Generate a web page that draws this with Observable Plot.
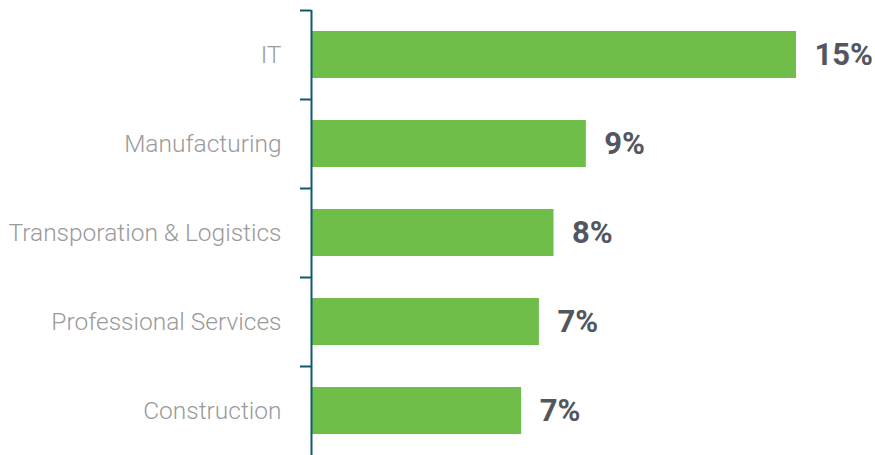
<!DOCTYPE html>
<html>
<head>
<meta charset="utf-8">
<script src="https://cdn.jsdelivr.net/npm/d3@7"></script>
<script src="https://cdn.jsdelivr.net/npm/@observablehq/plot@0.6"></script>
<style>
  html, body { margin: 0; padding: 0; background: #fff; }
  #chart svg { display: block; }
</style>
</head>
<body>
<div id="chart"></div>
<script>
const categories = ["IT", "Manufacturing", "Transporation & Logistics", "Professional Services", "Construction"];
const shares = [15, 8.5, 7.5, 7.05, 6.5];

const data = categories.map((c, i) => ({category: c, share: shares[i], label: Math.round(shares[i]) + "%"}));

const chart = Plot.plot({
  width: 875,
  height: 455,
  marginLeft: 311,
  marginRight: 79,
  marginTop: 10,
  marginBottom: 0,
  style: {fontFamily: "Roboto, sans-serif", background: "#fff"},
  x: {domain: [0, 15], axis: null},
  y: {domain: categories, paddingInner: 0.47, paddingOuter: 0.235, label: null},
  marks: [
    Plot.barX(data, {x: "share", y: "category", fill: "#6fbe4a"}),
    Plot.axisY({tickSize: 0, tickPadding: 30, fontSize: 24.5, fontWeight: 300, fill: "#9a9a9a", label: null}),
    Plot.axisY({text: null, tickSize: 11, dy: -44.5, stroke: "#0e5a6d", strokeWidth: 2, label: null}),
    Plot.ruleX([0], {stroke: "#0e5a6d", strokeWidth: 2}),
    Plot.text(data, {x: "share", y: "category", text: "label", dx: 18, textAnchor: "start", fontSize: 31, fontWeight: "bold", fill: "#53565e", style: {letterSpacing: "-2.5px"}})
  ]
});
document.getElementById("chart").append(chart);
</script>
</body>
</html>
